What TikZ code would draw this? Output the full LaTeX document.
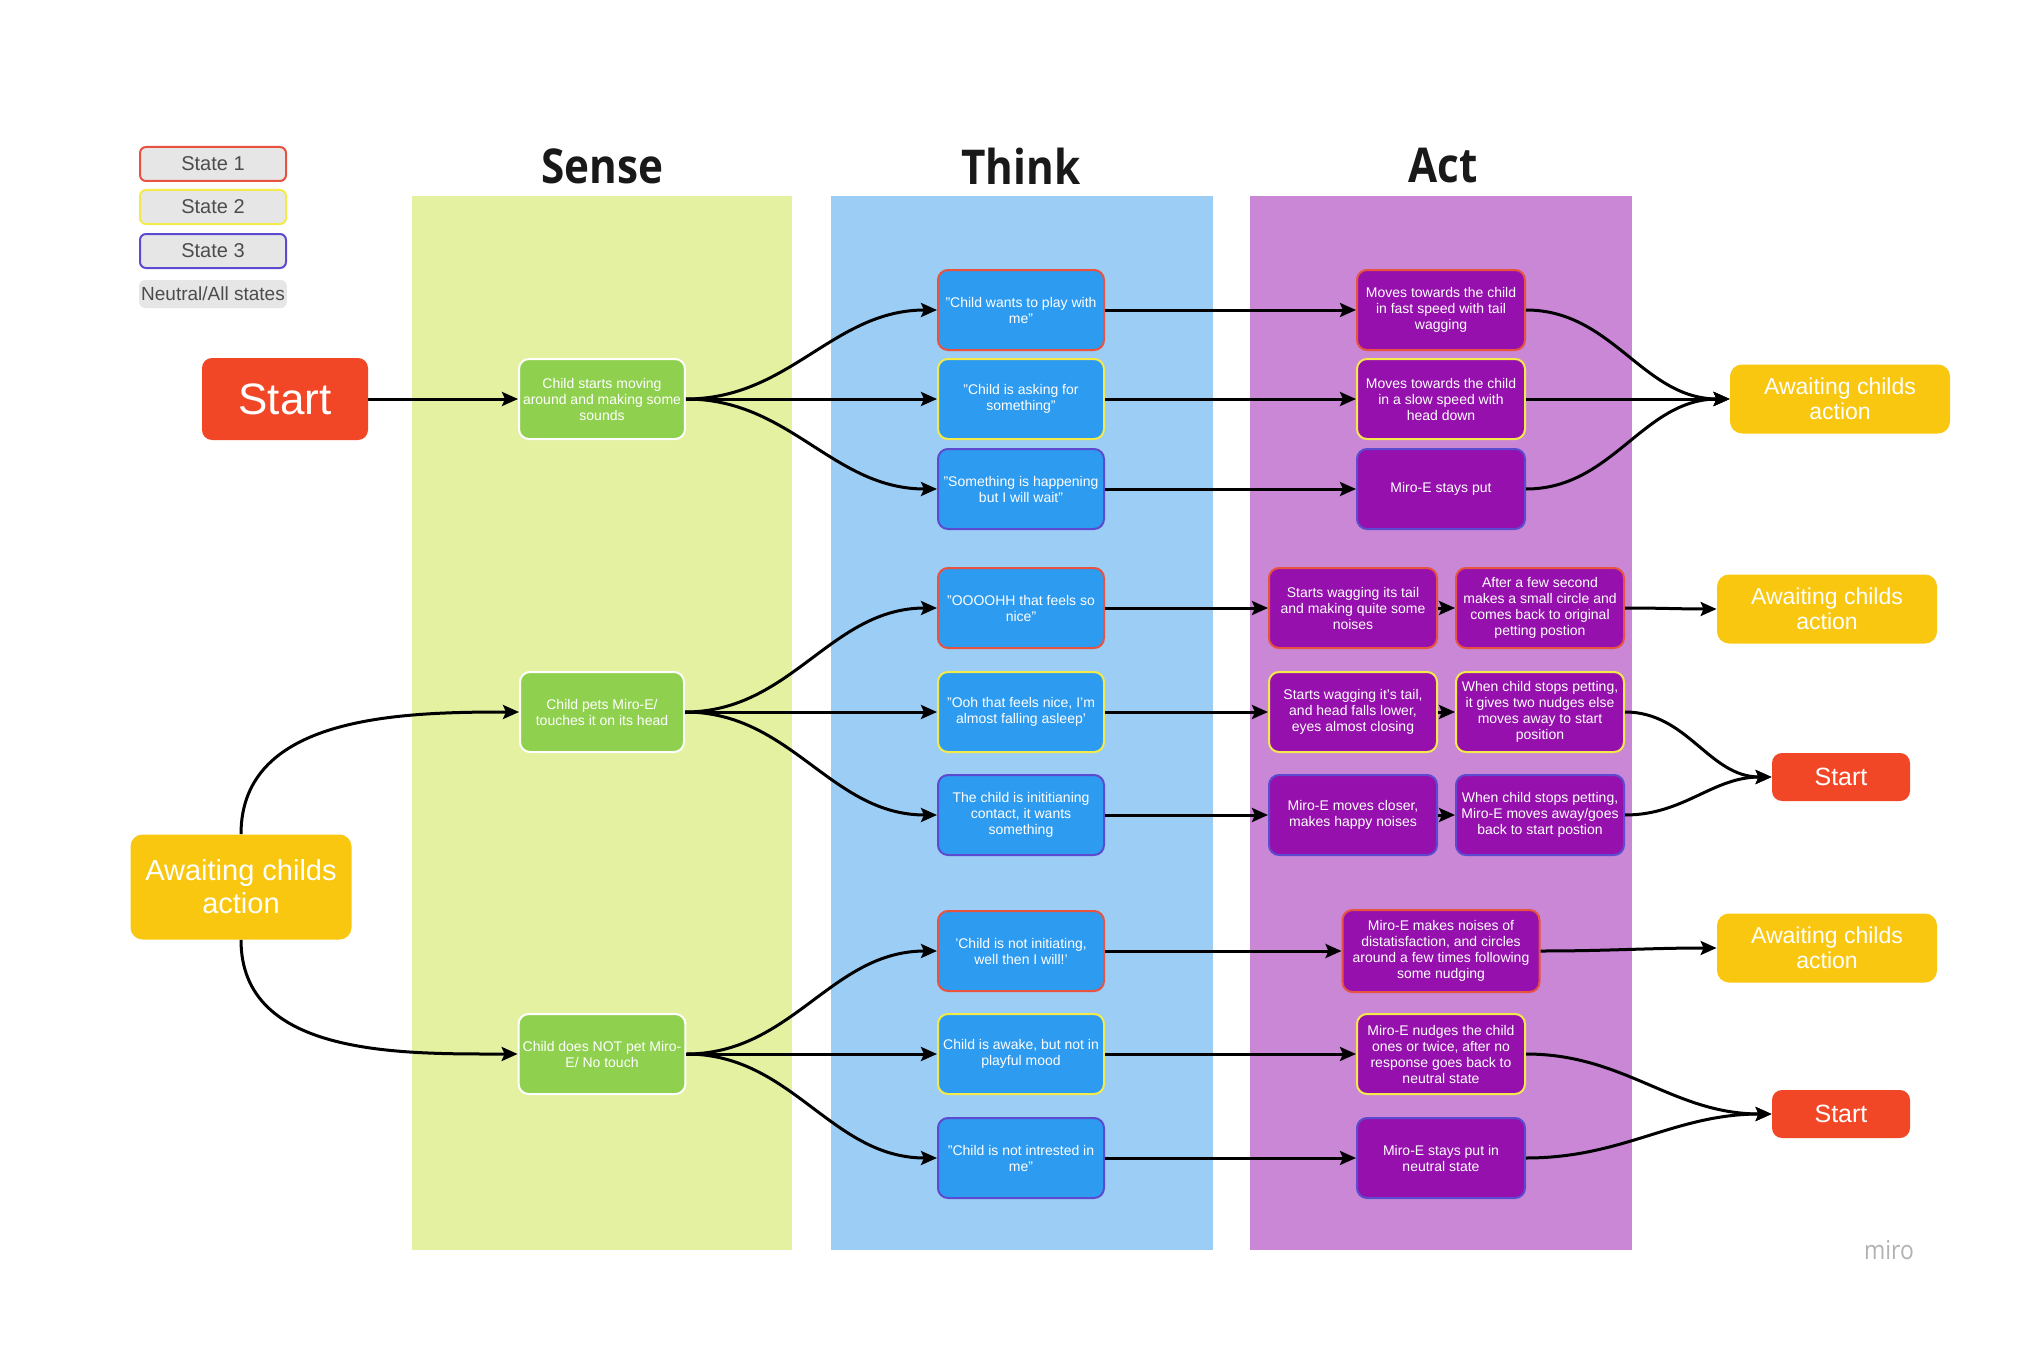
\documentclass[tikz,border=0pt]{standalone}
\usepackage{fontspec}
\setmainfont{Liberation Sans}
\newfontfamily\titlefont[FakeStretch=0.88]{Open Sans}
\usetikzlibrary{arrows.meta}

\definecolor{sensebg}{HTML}{E3F1A1}
\definecolor{thinkbg}{HTML}{9BCDF5}
\definecolor{actbg}{HTML}{C987D6}
\definecolor{sensegreen}{HTML}{8FD14F}
\definecolor{thinkblue}{HTML}{2D9BF0}
\definecolor{actpurple}{HTML}{9510AC}
\definecolor{startred}{HTML}{F24726}
\definecolor{awaityellow}{HTML}{FAC710}
\definecolor{stateone}{HTML}{E8533F}
\definecolor{statetwo}{HTML}{F4EA4A}
\definecolor{statethree}{HTML}{5C4BD0}
\definecolor{leggray}{HTML}{E6E6E6}

\tikzset{
  box/.style={rounded corners=5pt, align=center, text=white, inner sep=2pt,
    font=\fontsize{7}{8}\selectfont, minimum height=40pt},
  sensebox/.style={box, fill=sensegreen, draw=white, line width=1pt, minimum width=82pt},
  thinkbox/.style={box, fill=thinkblue, line width=1pt, minimum width=83pt},
  actbox/.style={box, fill=actpurple, line width=1pt, minimum width=84pt},
  sone/.style={draw=stateone},
  stwo/.style={draw=statetwo},
  sthree/.style={draw=statethree},
  legbox/.style={rounded corners=3pt, fill=leggray, line width=1pt, minimum width=73pt,
    minimum height=17pt, inner sep=1pt, text=black!70, font=\fontsize{10}{11}\selectfont},
  startbox/.style={rounded corners=5pt, fill=startred, text=white, inner sep=2pt},
  awaitbox/.style={rounded corners=6pt, fill=awaityellow, text=white, align=center, inner sep=2pt},
  coltitle/.style={font=\titlefont\bfseries\fontsize{24}{26}\selectfont, text=black!90},
  flow/.style={line width=1.5pt, -{Stealth[length=8pt,width=7pt,inset=1.5pt]}},
}

\begin{document}
\begin{tikzpicture}[x=0.5pt, y=-0.5pt]
  \fill[white] (0,0) rectangle (2036,1354);
  \useasboundingbox (0,0) rectangle (2036,1354);

  % columns
  \fill[sensebg] (412,196) rectangle (792,1250);
  \fill[thinkbg] (831,196) rectangle (1213,1250);
  \fill[actbg] (1250,196) rectangle (1632,1250);
  \node[coltitle] (sensetitle) at (602,166) {Sense};
  \node[coltitle] (thinktitle) at (1021,166) {Think};
  \node[coltitle] (acttitle) at (1443,166) {Act};

  % legend
  \node[legbox, sone] (leg1) at (213,164) {State 1};
  \node[legbox, stwo] (leg2) at (213,207) {State 2};
  \node[legbox, sthree] (leg3) at (213,251) {State 3};
  \node[legbox, minimum height=14pt, font=\fontsize{9.5}{10}\selectfont] (leg4) at (213,294) {Neutral/All states};

  % entry points
  \node[startbox, minimum width=83pt, minimum height=41pt, font=\fontsize{22}{24}\selectfont] (start) at (285,399) {Start};
  \node[awaitbox, minimum width=110.5pt, minimum height=52.5pt, font=\fontsize{14.5}{16.5}\selectfont] (awaitL) at (241,887) {Awaiting childs\\action};

  % sense
  \node[sensebox] (s1) at (602,399) {Child starts moving\\around and making some\\sounds};
  \node[sensebox] (s2) at (602,712) {Child pets Miro-E/\\touches it on its head};
  \node[sensebox] (s3) at (602,1054) {Child does NOT pet Miro-\\E/ No touch};

  % think
  \node[thinkbox, sone] (t1) at (1021,310) {"Child wants to play with\\me"};
  \node[thinkbox, stwo] (t2) at (1021,399) {"Child is asking for\\something"};
  \node[thinkbox, sthree] (t3) at (1021,489) {"Something is happening\\but I will wait"};
  \node[thinkbox, sone] (t4) at (1021,608) {"OOOOHH that feels so\\nice"};
  \node[thinkbox, stwo] (t5) at (1021,712) {"Ooh that feels nice, I'm\\almost falling asleep'};
  \node[thinkbox, sthree] (t6) at (1021,815) {The child is inititianing\\contact, it wants\\something};
  \node[thinkbox, sone] (t7) at (1021,951) {'Child is not initiating,\\well then I will!'};
  \node[thinkbox, stwo] (t8) at (1021,1054) {Child is awake, but not in\\playful mood};
  \node[thinkbox, sthree] (t9) at (1021,1158) {"Child is not intrested in\\me"};

  % act
  \node[actbox, sone] (a1) at (1441,310) {Moves towards the child\\in fast speed with tail\\wagging};
  \node[actbox, stwo] (a2) at (1441,399) {Moves towards the child\\in a slow speed with\\head down};
  \node[actbox, sthree] (a3) at (1441,489) {Miro-E stays put};
  \node[actbox, sone] (a4a) at (1353,608) {Starts wagging its tail\\and making quite some\\noises};
  \node[actbox, sone] (a4b) at (1540,608) {After a few second\\makes a small circle and\\comes back to original\\petting postion};
  \node[actbox, stwo] (a5a) at (1353,712) {Starts wagging it's tail,\\and head falls lower,\\eyes almost closing};
  \node[actbox, stwo] (a5b) at (1540,712) {When child stops petting,\\it gives two nudges else\\moves away to start\\position};
  \node[actbox, sthree] (a6a) at (1353,815) {Miro-E moves closer,\\makes happy noises};
  \node[actbox, sthree] (a6b) at (1540,815) {When child stops petting,\\Miro-E moves away/goes\\back to start postion};
  \node[actbox, sone, minimum width=98.5pt, minimum height=41pt] (a7) at (1441,951) {Miro-E makes noises of\\distatisfaction, and circles\\around a few times following\\some nudging};
  \node[actbox, stwo] (a8) at (1441,1054) {Miro-E nudges the child\\ones or twice, after no\\response goes back to\\neutral state};
  \node[actbox, sthree] (a9) at (1441,1158) {Miro-E stays put in\\neutral state};

  % exits
  \node[awaitbox, minimum width=110pt, minimum height=34.5pt, font=\fontsize{11.5}{12.5}\selectfont] (awaitR1) at (1840,399) {Awaiting childs\\action};
  \node[awaitbox, minimum width=110pt, minimum height=34.5pt, font=\fontsize{11.5}{12.5}\selectfont] (awaitR2) at (1827,609) {Awaiting childs\\action};
  \node[startbox, minimum width=69pt, minimum height=24pt, font=\fontsize{12.5}{14}\selectfont] (startR1) at (1841,777) {Start};
  \node[awaitbox, minimum width=110pt, minimum height=34.5pt, font=\fontsize{11.5}{12.5}\selectfont] (awaitR3) at (1827,948) {Awaiting childs\\action};
  \node[startbox, minimum width=69pt, minimum height=24pt, font=\fontsize{12.5}{14}\selectfont] (startR2) at (1841,1114) {Start};

  \node[text=black!30, font=\titlefont\fontsize{13}{14}\selectfont] (miro) at (1889,1250) {miro};

  % connectors
  \draw[flow] (start) -- (s1);
  \draw[flow] (awaitL.north) to[out=90, in=180] (s2.west);
  \draw[flow] (awaitL.south) to[out=-90, in=180] (s3.west);
  \foreach \t in {t1,t2,t3} \draw[flow] (s1.east) to[out=0, in=180] (\t.west);
  \foreach \t in {t4,t5,t6} \draw[flow] (s2.east) to[out=0, in=180] (\t.west);
  \foreach \t in {t7,t8,t9} \draw[flow] (s3.east) to[out=0, in=180] (\t.west);
  \foreach \t/\a in {t1/a1,t2/a2,t3/a3,t4/a4a,t5/a5a,t6/a6a,t7/a7,t8/a8,t9/a9}
    \draw[flow] (\t) -- (\a);
  \foreach \a/\b in {a4a/a4b,a5a/a5b,a6a/a6b} \draw[flow] (\a) -- (\b);
  \foreach \a in {a1,a2,a3} \draw[flow] (\a.east) to[out=0, in=180] (awaitR1.west);
  \draw[flow] (a4b.east) to[out=0, in=180] (awaitR2.west);
  \foreach \a in {a5b,a6b} \draw[flow] (\a.east) to[out=0, in=180] (startR1.west);
  \draw[flow] (a7.east) to[out=0, in=180] (awaitR3.west);
  \foreach \a in {a8,a9} \draw[flow] (\a.east) to[out=0, in=180] (startR2.west);
\end{tikzpicture}
\end{document}
